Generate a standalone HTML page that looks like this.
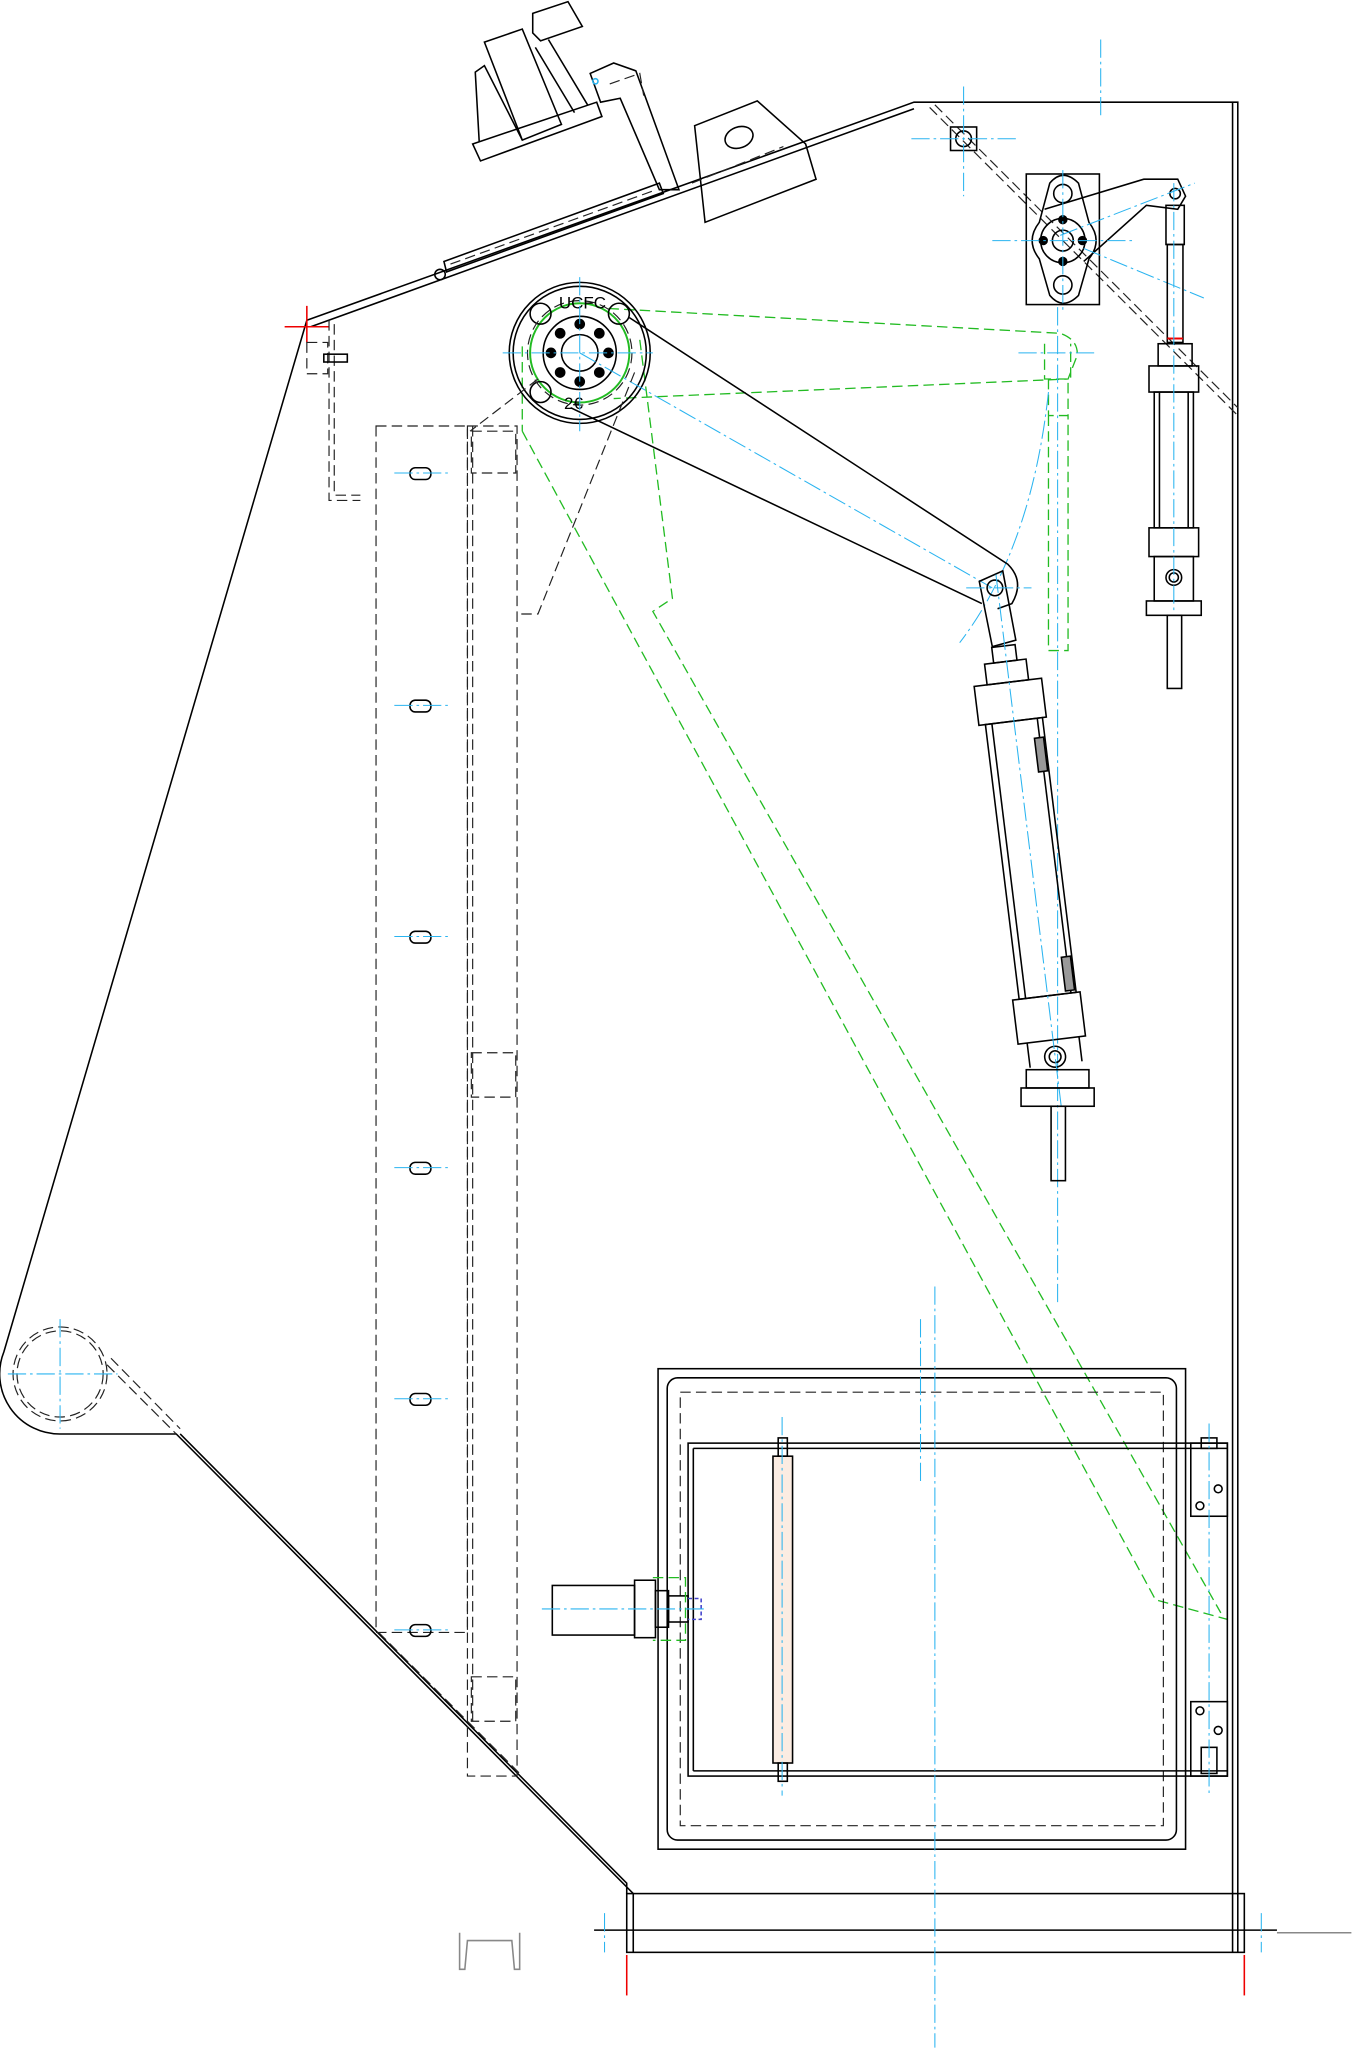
<!DOCTYPE html>
<html><head><meta charset="utf-8"><style>html,body{margin:0;padding:0;background:#fff}svg{display:block}</style></head>
<body>
<svg width="1354" height="2048" viewBox="0 0 1037 1568" xmlns="http://www.w3.org/2000/svg" fill="none" stroke="#000" stroke-width="1.2">
<defs>
<style>
.c{stroke:#2ab4f0;stroke-width:.8;stroke-dasharray:14 3 2 3}
.d{stroke:#222;stroke-width:.9;stroke-dasharray:8 4}
.g{stroke:#22bb22;stroke-width:1;stroke-dasharray:8 4}
</style>
</defs>
<!-- main outline -->
<path d="M235,245 L700,78 L948,78 L948,1495"/>
<path d="M238,250 L700,83"/>
<path d="M944,78 L944,1495"/>
<path d="M235,245 L3,1035 A46,46 0 0 0 46,1098 L135,1098 L485,1450 L485,1495"/>
<path d="M138,1098 L480,1442 L480,1450"/>
<rect x="480" y="1450" width="473" height="45"/>
<line x1="455" y1="1478" x2="978" y2="1478"/>
<line x1="978" y1="1480" x2="1035" y2="1480" stroke="#888"/>
<path d="M352,1480 L352,1508 L356,1508 L358,1486 L392,1486 L394,1508 L398,1508 L398,1480" stroke="#888"/>
<line x1="480" y1="1497" x2="480" y2="1528" stroke="#e00"/>
<line x1="953" y1="1497" x2="953" y2="1528" stroke="#e00"/>
<line x1="218" y1="250" x2="252" y2="250" stroke="#e00"/><line x1="235" y1="234" x2="235" y2="262" stroke="#e00"/>
<!-- left circle -->
<circle cx="46" cy="1052" r="36" class="d"/><circle cx="46" cy="1052" r="33" class="d"/>
<line x1="6" y1="1052" x2="90" y2="1052" class="c"/><line x1="46" y1="1010" x2="46" y2="1094" class="c"/>
<path d="M82,1045 L135,1098 M85,1040 L138,1094" class="d"/>
<!-- top-left bracket -->
<path d="M252,245 L252,383 L276,383 M256,248 L256,379 L276,379" class="d"/>
<rect x="235" y="262" width="16" height="24" class="d"/>
<rect x="248" y="271" width="18" height="6"/>
<!-- top plate strip -->
<path d="M340,200 L505,140 L508,148 L342,208 Z"/>
<path d="M345,202 L500,146" class="d"/>
<circle cx="337" cy="210" r="4"/>
<!-- gearbox -->
<path d="M362,110 L457,78 L461,89 L368,123 Z"/>
<path d="M367,108 L364,55 L371,50 L400,107"/>
<path d="M371,32 L400,22 L430,95 L400,107 Z M371,32 L400,107"/>
<path d="M408,10 L435,1 L446,20 L414,31 L408,25 Z"/>
<path d="M420,30 L450,80 M410,36 L440,86"/>
<path d="M452,56 L470,48 L487,54 L520,145 L505,145 L475,75 L460,78 Z"/>
<path d="M467,64 L490,56 L493,73" class="d"/>
<circle cx="456" cy="62" r="2" stroke="#2ab4f0"/>
<path d="M532,96 L580,77 L617,110 L625,137 L540,170 Z"/>
<ellipse cx="566" cy="105" rx="11" ry="8" transform="rotate(-20 566 105)"/>
<path d="M530,140 L600,112" class="d"/>
<!-- top-right diagonal dashed -->
<path d="M712,82 L948,318 M716,80 L948,312" class="d"/>
<rect x="728" y="97" width="20" height="18"/><circle cx="738" cy="106" r="6"/>
<line x1="738" y1="66" x2="738" y2="150" class="c"/><line x1="698" y1="106" x2="780" y2="106" class="c"/>
<line x1="843" y1="30" x2="843" y2="90" class="c"/>
<!-- flange bearing top right -->
<rect x="786" y="133" width="56" height="100"/>
<path d="M804,140 Q814,128 826,140 L834,170 Q845,184 834,198 L826,226 Q814,238 804,226 L796,198 Q785,184 796,170 Z"/>
<circle cx="814" cy="184" r="17"/><circle cx="814" cy="184" r="8"/>
<circle cx="814" cy="168" r="3" fill="#000"/><circle cx="814" cy="200" r="3" fill="#000"/><circle cx="799" cy="184" r="3" fill="#000"/><circle cx="829" cy="184" r="3" fill="#000"/>
<circle cx="814" cy="148" r="7"/><circle cx="814" cy="218" r="7"/>
<path d="M800,160 L876,137 L902,137 L908,150 L902,160 L878,157 L830,200"/>
<circle cx="900" cy="148" r="4"/>
<line x1="760" y1="184" x2="870" y2="184" class="c"/><line x1="814" y1="130" x2="814" y2="240" class="c"/>
<path d="M812,180 L915,140 M830,190 L922,228" class="c"/>
<!-- small cylinder right -->
<rect x="893" y="157" width="14" height="30"/><rect x="894" y="187" width="12" height="75"/>
<line x1="894" y1="259" x2="906" y2="259" stroke="#e00" stroke-width="1.5"/>
<rect x="887" y="263" width="26" height="17"/><rect x="880" y="280" width="38" height="20"/>
<rect x="884" y="300" width="30" height="104"/><line x1="888" y1="300" x2="888" y2="404"/><line x1="910" y1="300" x2="910" y2="404"/>
<rect x="880" y="404" width="38" height="22"/><rect x="884" y="426" width="30" height="34"/>
<circle cx="899" cy="442" r="6"/><circle cx="899" cy="442" r="3.5"/>
<rect x="878" y="460" width="42" height="11"/><rect x="894" y="471" width="11" height="56"/>
<line x1="899" y1="140" x2="899" y2="470" class="c"/>
<!-- green ghost -->
<path d="M466,236 L812,255 Q826,260 825,272 L818,290 L470,305" class="g"/>
<path d="M800,263 L800,290 L820,290 L820,263 M803,290 L803,318 L818,318 L818,290 M803,318 L803,498 L818,498 L818,318" class="g"/>
<path d="M400,330 L885,1225 L940,1240 M490,260 L515,458 L500,468 L935,1235" class="g"/>
<path d="M400,265 L400,330" class="g"/>
<line x1="810" y1="235" x2="810" y2="1000" class="c"/>
<line x1="780" y1="270" x2="840" y2="270" class="c"/>
<path d="M803,300 Q790,420 735,492" class="c"/>
<!-- hub -->
<circle cx="444" cy="270" r="54"/><circle cx="444" cy="270" r="51"/>
<circle cx="444" cy="270" r="38" stroke="#22bb22" stroke-width="1.5"/>
<circle cx="444" cy="270" r="28"/><circle cx="444" cy="270" r="14"/>
<circle cx="444" cy="248" r="3.5" fill="#000"/><circle cx="444" cy="292" r="3.5" fill="#000"/><circle cx="422" cy="270" r="3.5" fill="#000"/><circle cx="466" cy="270" r="3.5" fill="#000"/>
<circle cx="429" cy="255" r="3.5" fill="#000"/><circle cx="459" cy="255" r="3.5" fill="#000"/><circle cx="429" cy="285" r="3.5" fill="#000"/><circle cx="459" cy="285" r="3.5" fill="#000"/>
<circle cx="414" cy="240" r="8"/><circle cx="474" cy="240" r="8"/><circle cx="414" cy="300" r="8"/>
<circle cx="444" cy="270" r="40" class="d"/>
<text x="428" y="236" font-family="Liberation Sans, sans-serif" font-size="13" fill="#000" stroke="none">UCFC</text>
<text x="432" y="313" font-family="Liberation Sans, sans-serif" font-size="13" fill="#000" stroke="none">2€</text>
<line x1="385" y1="270" x2="500" y2="270" class="c"/><line x1="444" y1="212" x2="444" y2="330" class="c"/>
<path d="M444,270 L760,450" class="c"/>
<path d="M412,290 L360,330 M486,285 L412,470 L396,470" class="d"/>
<!-- arm -->
<path d="M482,243 L772,432 Q785,445 775,462 L764,466 M437,312 L752,462"/>
<path d="M750,445 L768,437 L778,490 L760,495 Z"/><circle cx="762" cy="450" r="6"/>
<line x1="740" y1="450" x2="790" y2="450" class="c"/>
<!-- main cylinder -->
<g transform="translate(762,450) rotate(-7)">
<rect x="-8" y="45" width="18" height="12"/>
<rect x="-15" y="57" width="32" height="16"/><rect x="-25" y="73" width="52" height="30"/>
<rect x="-20" y="103" width="44" height="212"/><line x1="-15" y1="103" x2="-15" y2="315"/><line x1="20" y1="103" x2="20" y2="315"/>
<rect x="16" y="118" width="7" height="26" fill="#999"/><rect x="16" y="287" width="7" height="26" fill="#999"/>
<rect x="-25" y="315" width="52" height="34"/>
<path d="M-18,349 L-18,368 M22,349 L22,368"/>
<circle cx="2" cy="362" r="8"/><circle cx="2" cy="362" r="4.5"/>
<line x1="2" y1="-10" x2="2" y2="400" class="c"/>
</g>
<rect x="786" y="819" width="48" height="14"/>
<rect x="782" y="833" width="56" height="14"/><rect x="805" y="847" width="11" height="57"/>
<!-- vertical dashed frame -->
<rect x="288" y="326" width="70" height="924" class="d"/>
<rect x="358" y="326" width="38" height="1034" class="d"/>
<line x1="362" y1="326" x2="362" y2="1320" class="d"/>
<rect x="361" y="330" width="34" height="32" class="d"/><rect x="361" y="806" width="34" height="34" class="d"/><rect x="361" y="1284" width="34" height="34" class="d"/>
<path d="M290,1250 L400,1360" class="d"/>
<g>
<rect x="314" y="358" width="16" height="9" rx="4"/><rect x="314" y="536" width="16" height="9" rx="4"/><rect x="314" y="713" width="16" height="9" rx="4"/><rect x="314" y="890" width="16" height="9" rx="4"/><rect x="314" y="1067" width="16" height="9" rx="4"/><rect x="314" y="1244" width="16" height="9" rx="4"/>
</g>
<path d="M302,362 H344 M302,540 H344 M302,717 H344 M302,894 H344 M302,1071 H344 M302,1248 H344" class="c"/>
<!-- bottom box -->
<rect x="504" y="1048" width="404" height="368"/>
<rect x="511" y="1055" width="390" height="354" rx="8"/>
<rect x="521" y="1066" width="370" height="332" class="d"/>
<rect x="527" y="1105" width="413" height="255"/><line x1="531" y1="1109" x2="940" y2="1109"/><line x1="531" y1="1356" x2="940" y2="1356"/><line x1="531" y1="1109" x2="531" y2="1356"/>
<rect x="592" y="1115" width="15" height="235" fill="#fbece2"/>
<rect x="596" y="1101" width="7" height="14"/><rect x="596" y="1350" width="7" height="14"/>
<line x1="599" y1="1085" x2="599" y2="1375" class="c"/>
<rect x="912" y="1105" width="28" height="56"/><rect x="920" y="1101" width="12" height="8"/>
<circle cx="919" cy="1153" r="3"/><circle cx="933" cy="1140" r="3"/>
<rect x="912" y="1303" width="28" height="57"/><rect x="920" y="1338" width="12" height="20"/>
<circle cx="919" cy="1310" r="3"/><circle cx="933" cy="1325" r="3"/>
<line x1="926" y1="1090" x2="926" y2="1375" class="c"/>
<line x1="716" y1="985" x2="716" y2="1568" class="c"/><line x1="705" y1="1010" x2="705" y2="1135" class="c"/>
<line x1="463" y1="1465" x2="463" y2="1495" class="c"/><line x1="966" y1="1465" x2="966" y2="1495" class="c"/>
<!-- motor left -->
<rect x="423" y="1214" width="63" height="38"/><rect x="486" y="1210" width="16" height="44"/><rect x="502" y="1218" width="10" height="28"/>
<rect x="512" y="1222" width="15" height="20"/>
<path d="M500,1208 L525,1208 L525,1256 L500,1256" class="g"/>
<path d="M527,1224 L537,1224 L537,1240 L527,1240" stroke="#4444cc" stroke-dasharray="3 2"/>
<line x1="415" y1="1232" x2="540" y2="1232" class="c"/>
</svg>
</body></html>
